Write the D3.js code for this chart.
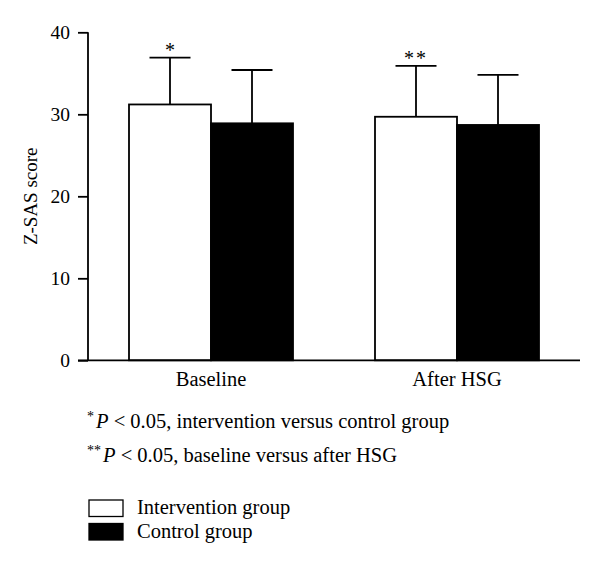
<!DOCTYPE html>
<html><head><meta charset="utf-8">
<script src="https://cdn.jsdelivr.net/npm/d3@7"></script>
<style>body{margin:0;background:#fff;} svg text{font-family:"Liberation Serif","DejaVu Serif",serif;fill:#000;}</style>
</head><body>
<svg id="c" width="600" height="566"></svg>
<script>
const categories = ["Baseline", "After HSG"];
const groups = ["Intervention group", "Control group"];
const interventionMean = [31.2, 29.7];
const interventionErr = [36.9, 35.9];
const controlMean = [28.9, 28.7];
const controlErr = [35.4, 34.8];
const significance = ["*", "**"];
const yTicks = [0, 10, 20, 30, 40];
const footnotes = [
  {mark: "*", text: " < 0.05, intervention versus control group"},
  {mark: "**", text: " < 0.05, baseline versus after HSG"}
];
const fills = ["#fff", "#000"];

const svg = d3.select("#c");
const x0 = 88, x1 = 580, yTop = 32.3, yBot = 360.3;
const FS = 19.5, TS = 20.5;
const y = d3.scaleLinear().domain([0, 40]).range([yBot, yTop]);
const xb = d3.scaleBand().domain(categories).range([x0, x1]).paddingInner(1/3).paddingOuter(1/6);
const xs = d3.scaleBand().domain(groups).range([0, xb.bandwidth()]);

const data = [];
categories.forEach((c, i) => {
  data.push({c, g: groups[0], v: interventionMean[i], e: interventionErr[i], sig: significance[i]});
  data.push({c, g: groups[1], v: controlMean[i], e: controlErr[i], sig: ""});
});

const bars = svg.append("g");
data.forEach(d => {
  const bx = xb(d.c) + xs(d.g);
  const cx = bx + xs.bandwidth() / 2;
  const capW = xs.bandwidth() / 2;
  bars.append("line").attr("x1", cx).attr("x2", cx).attr("y1", y(d.v)).attr("y2", y(d.e))
    .attr("stroke", "#000").attr("stroke-width", 1.8);
  bars.append("line").attr("x1", cx - capW/2).attr("x2", cx + capW/2).attr("y1", y(d.e)).attr("y2", y(d.e))
    .attr("stroke", "#000").attr("stroke-width", 1.8);
  bars.append("rect").attr("x", bx).attr("y", y(d.v)).attr("width", xs.bandwidth()).attr("height", y(0) - y(d.v))
    .attr("fill", d.g === groups[0] ? fills[0] : fills[1]).attr("stroke", "#000").attr("stroke-width", 1.8);
  if (d.sig) {
    bars.append("text").attr("x", cx).attr("y", y(d.e) - 1).attr("text-anchor", "middle")
      .attr("font-size", 20).attr("letter-spacing", d.sig.length > 1 ? 2 : 0).text(d.sig);
  }
});

const yAxis = svg.append("g").attr("transform", `translate(${x0},0)`)
  .call(d3.axisLeft(y).tickValues(yTicks).tickSize(10).tickPadding(8));
yAxis.select(".domain").attr("stroke-width", 1.8).attr("d", `M0,${yTop}V${yBot}`);
yAxis.selectAll(".tick line").attr("stroke-width", 1.8);
yAxis.selectAll("text").attr("font-size", FS).style("font-family", '"Liberation Serif",serif');

const xAxis = svg.append("g").attr("transform", `translate(0,${yBot})`)
  .call(d3.axisBottom(xb).tickSize(0).tickPadding(11));
xAxis.select(".domain").attr("stroke-width", 1.8).attr("d", `M${x0 - 10},0H${x1}`);
xAxis.selectAll("text").attr("font-size", TS).style("font-family", '"Liberation Serif",serif');

svg.append("text").attr("transform", `translate(37,${(yTop + yBot) / 2}) rotate(-90)`)
  .attr("text-anchor", "middle").attr("font-size", 19).text("Z-SAS score");

footnotes.forEach((f, i) => {
  const t = svg.append("text").attr("x", 87).attr("y", 428 + i * 34).attr("font-size", TS);
  t.append("tspan").attr("font-size", 14).attr("dy", -7).text(f.mark);
  t.append("tspan").attr("dy", 7).attr("dx", 2).attr("font-style", "italic").text("P");
  t.append("tspan").text(f.text);
});

groups.forEach((g, i) => {
  svg.append("rect").attr("x", 89).attr("y", 500 + i * 23.5).attr("width", 34).attr("height", 16.5)
    .attr("fill", fills[i]).attr("stroke", "#000").attr("stroke-width", 1.3);
  svg.append("text").attr("x", 137).attr("y", 514 + i * 23.5).attr("font-size", TS).text(g);
});
</script>
</body></html>
